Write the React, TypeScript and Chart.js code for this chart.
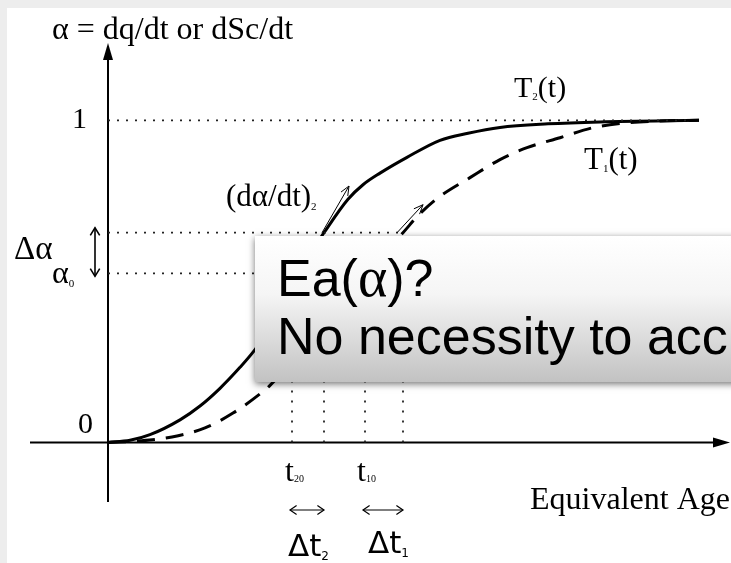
import { useEffect, useRef } from "react";
import { Chart, registerables } from "chart.js";

Chart.register(...registerables);

// Equivalent age (arbitrary units) vs. degree of reaction, higher temperature history T2
const AGE_T2 = [0, 0.22, 0.42, 0.72, 0.92, 1.12, 1.32, 1.47, 1.65, 1.84, 2.0, 2.16, 2.4, 2.55, 2.72, 2.99, 3.32, 3.6, 3.92, 4.4, 4.92, 5.91];
const ALPHA_T2 = [0, 0.0065, 0.024, 0.07, 0.113, 0.168, 0.233, 0.288, 0.37, 0.48, 0.575, 0.651, 0.755, 0.8, 0.836, 0.885, 0.938, 0.96, 0.978, 0.989, 0.995, 1.0];

// Lower temperature history T1
const AGE_T1 = [0, 0.32, 0.64, 0.97, 1.25, 1.53, 1.62, 2.1, 2.57, 2.95, 3.1, 3.29, 3.62, 3.92, 4.19, 4.52, 4.85, 5.12, 5.52, 5.91];
const ALPHA_T1 = [0, 0.005, 0.017, 0.045, 0.091, 0.153, 0.177, 0.35, 0.525, 0.651, 0.704, 0.757, 0.822, 0.878, 0.915, 0.946, 0.977, 0.99, 0.998, 1.0];

// Reaction levels alpha0, alpha0 + delta alpha, and full reaction
const ALPHA_0 = 0.525;
const ALPHA_1 = 0.651;
const ALPHA_FULL = 1;
const FULL_LINE_END = 5.84;

// Ages at which each curve reaches alpha0 and alpha0 + delta alpha
const T2_AGES = [1.84, 2.16];
const T1_AGES = [2.57, 2.95];

// Tangent (rate) arrows: start and end, [age, alpha]
const TANGENTS = [
  [[2.14, 0.651], [2.41, 0.796]],
  [[2.89, 0.651], [3.15, 0.738]],
];

const X_MIN = -0.78;
const X_MAX = 6.22;
const Y_MIN = -0.185;
const Y_MAX = 1.24;

const SERIF = '"Liberation Serif", "Times New Roman", serif';
const SANS = '"Liberation Sans", Arial, sans-serif';
const VERDANA = '"DejaVu Sans", Verdana, sans-serif';

const toPoints = (xs: number[], ys: number[]) => xs.map((x, i) => ({ x, y: ys[i] }));

function openHead(ctx: CanvasRenderingContext2D, tx: number, ty: number, ang: number, len: number, spread: number) {
  ctx.beginPath();
  ctx.moveTo(tx - len * Math.cos(ang - spread), ty - len * Math.sin(ang - spread));
  ctx.lineTo(tx, ty);
  ctx.lineTo(tx - len * Math.cos(ang + spread), ty - len * Math.sin(ang + spread));
  ctx.stroke();
}

function subText(
  ctx: CanvasRenderingContext2D,
  parts: [string, number, number, string?][],
  x: number,
  y: number,
  family: string
) {
  // parts: [text, font size, baseline shift, optional family]
  let cx = x;
  for (const [t, size, dy, fam] of parts) {
    ctx.font = `${size}px ${fam || family}`;
    ctx.fillText(t, cx, y + dy);
    cx += ctx.measureText(t).width;
  }
}

const diagramPlugin = {
  id: "diagram",
  beforeDraw(chart: any) {
    const { ctx, width, height } = chart;
    ctx.save();
    ctx.fillStyle = "#ededed";
    ctx.fillRect(0, 0, width, height);
    ctx.fillStyle = "#ffffff";
    ctx.fillRect(7, 8, width - 7, height - 8);
    ctx.restore();
  },
  beforeDatasetsDraw(chart: any) {
    const { ctx, chartArea, scales } = chart;
    const x0 = scales.x.getPixelForValue(0);
    const y0 = scales.y.getPixelForValue(0);
    ctx.save();
    ctx.strokeStyle = "#000";
    ctx.fillStyle = "#000";
    ctx.lineWidth = 2;
    // vertical axis
    ctx.beginPath();
    ctx.moveTo(x0, chartArea.bottom);
    ctx.lineTo(x0, chartArea.top + 12);
    ctx.stroke();
    ctx.beginPath();
    ctx.moveTo(x0, chartArea.top);
    ctx.lineTo(x0 - 5, chartArea.top + 17);
    ctx.lineTo(x0 + 5, chartArea.top + 17);
    ctx.closePath();
    ctx.fill();
    // horizontal axis
    ctx.beginPath();
    ctx.moveTo(chartArea.left, y0);
    ctx.lineTo(chartArea.right - 12, y0);
    ctx.stroke();
    ctx.beginPath();
    ctx.moveTo(chartArea.right, y0);
    ctx.lineTo(chartArea.right - 17, y0 - 5);
    ctx.lineTo(chartArea.right - 17, y0 + 5);
    ctx.closePath();
    ctx.fill();
    ctx.restore();
  },
  afterDatasetsDraw(chart: any) {
    const { ctx, scales } = chart;
    const px = (v: number) => scales.x.getPixelForValue(v);
    const py = (v: number) => scales.y.getPixelForValue(v);
    ctx.save();
    ctx.strokeStyle = "#000";
    ctx.fillStyle = "#000";

    // rate tangents
    ctx.lineWidth = 1;
    for (const [[ax, ay], [bx, by]] of TANGENTS) {
      const x1 = px(ax), y1 = py(ay), x2 = px(bx), y2 = py(by);
      ctx.beginPath();
      ctx.moveTo(x1, y1);
      ctx.lineTo(x2, y2);
      ctx.stroke();
      openHead(ctx, x2, y2, Math.atan2(y2 - y1, x2 - x1), 10, 0.4);
    }

    // delta alpha double arrow
    const ax = px(0) - 13;
    const ya = py(ALPHA_1) - 5;
    const yb = py(ALPHA_0) + 3;
    ctx.lineWidth = 1.6;
    ctx.beginPath();
    ctx.moveTo(ax, ya);
    ctx.lineTo(ax, yb);
    ctx.stroke();
    openHead(ctx, ax, ya, -Math.PI / 2, 9, 0.55);
    openHead(ctx, ax, yb, Math.PI / 2, 9, 0.55);

    // delta t double arrows
    ctx.lineWidth = 1.2;
    const yd = 510;
    for (const [a, b] of [T2_AGES, T1_AGES]) {
      const xa = px(a) - 2;
      const xb = px(b);
      ctx.beginPath();
      ctx.moveTo(xa, yd);
      ctx.lineTo(xb, yd);
      ctx.stroke();
      openHead(ctx, xa, yd, Math.PI, 8, 0.6);
      openHead(ctx, xb, yd, 0, 8, 0.6);
    }

    // callout box
    const bx = 255, by = 236, bw = 520, bh = 146;
    ctx.save();
    ctx.shadowColor = "rgba(0,0,0,0.55)";
    ctx.shadowBlur = 7;
    ctx.shadowOffsetX = 0;
    ctx.shadowOffsetY = 2;
    const g = ctx.createLinearGradient(0, by, 0, by + bh);
    g.addColorStop(0, "#ffffff");
    g.addColorStop(0.4, "#f5f5f5");
    g.addColorStop(1, "#c2c2c2");
    ctx.fillStyle = g;
    ctx.fillRect(bx, by, bw, bh);
    ctx.restore();
    ctx.fillStyle = "#000";
    ctx.textBaseline = "alphabetic";
    subText(ctx, [["Ea(", 52, 0], ["\u03b1", 56, 0, SERIF], [")?", 52, 0]], 277, 296, SANS);
    ctx.font = `52px ${SANS}`;
    ctx.fillText("No necessity to acc", 277, 354);

    // annotations
    ctx.font = `32px ${SERIF}`;
    ctx.fillText("\u03b1 = dq/dt or dSc/dt", 52, 39);
    ctx.font = `30px ${SERIF}`;
    ctx.fillText("1", 72, 128);
    ctx.fillText("0", 78, 433);
    ctx.font = `33px ${SERIF}`;
    ctx.fillText("\u0394\u03b1", 14, 259);
    subText(ctx, [["\u03b1", 32, 0], ["0", 11, 4]], 52, 283, SERIF);
    subText(ctx, [["(d\u03b1/dt)", 31, 0], ["2", 11, 4]], 226, 206, SERIF);
    subText(ctx, [["T", 30, 0], ["2", 11, 3], ["(t)", 30, 0]], 514, 97, SERIF);
    subText(ctx, [["T", 31, 0], ["1", 11, 3], ["(t)", 31, 0]], 584, 169, SERIF);
    subText(ctx, [["t", 32, 0], ["20", 10, 1]], px(T2_AGES[0]) - 7, 481, SERIF);
    subText(ctx, [["t", 32, 0], ["10", 10, 1]], px(T1_AGES[0]) - 8, 481, SERIF);
    ctx.font = `32px ${SERIF}`;
    ctx.fillText("Equivalent Age", 530, 509);
    subText(ctx, [["\u0394t", 31, 0], ["2", 12, 4]], px(T2_AGES[0]) - 4, 556, VERDANA);
    subText(ctx, [["\u0394t", 31, 0], ["1", 12, 4]], px(T1_AGES[0]) + 3, 553, VERDANA);
    ctx.restore();
  },
};

export default function App() {
  const canvasRef = useRef<HTMLCanvasElement | null>(null);

  useEffect(() => {
    const canvas = canvasRef.current;
    if (!canvas) return;

    const dotted = { borderColor: "#222", borderWidth: 1.8, borderDash: [2, 7], pointRadius: 0, fill: false };
    const verticals = [
      [T2_AGES[0], ALPHA_0],
      [T2_AGES[1], ALPHA_1],
      [T1_AGES[0], ALPHA_0],
      [T1_AGES[1], ALPHA_1],
    ].map(([t, a]) => ({
      ...dotted,
      borderDash: [2, 8],
      data: [{ x: t, y: 0 }, { x: t, y: a }],
    }));

    const chart = new Chart(canvas, {
      type: "line",
      data: {
        datasets: [
          { ...dotted, data: [{ x: 0, y: ALPHA_FULL }, { x: FULL_LINE_END, y: ALPHA_FULL }] },
          { ...dotted, data: [{ x: 0, y: ALPHA_1 }, { x: T1_AGES[1], y: ALPHA_1 }] },
          { ...dotted, data: [{ x: 0, y: ALPHA_0 }, { x: T1_AGES[0], y: ALPHA_0 }] },
          ...verticals,
          {
            label: "T2(t)",
            data: toPoints(AGE_T2, ALPHA_T2),
            borderColor: "#000",
            borderWidth: 3,
            pointRadius: 0,
            cubicInterpolationMode: "monotone",
            fill: false,
          },
          {
            label: "T1(t)",
            data: toPoints(AGE_T1, ALPHA_T1),
            borderColor: "#000",
            borderWidth: 3,
            borderDash: [18, 11],
            pointRadius: 0,
            cubicInterpolationMode: "monotone",
            fill: false,
          },
        ],
      },
      options: {
        responsive: false,
        animation: false,
        events: [],
        layout: { padding: { left: 30, right: 1, top: 43, bottom: 61 } },
        plugins: { legend: { display: false }, tooltip: { enabled: false } },
        scales: {
          x: { type: "linear", min: X_MIN, max: X_MAX, display: false },
          y: { type: "linear", min: Y_MIN, max: Y_MAX, display: false },
        },
      },
      plugins: [diagramPlugin],
    } as any);

    return () => chart.destroy();
  }, []);

  return (
    <div style={{ position: "absolute", left: 0, top: 0, width: 731, height: 563 }}>
      <canvas ref={canvasRef} width={731} height={563} style={{ display: "block" }} />
    </div>
  );
}
